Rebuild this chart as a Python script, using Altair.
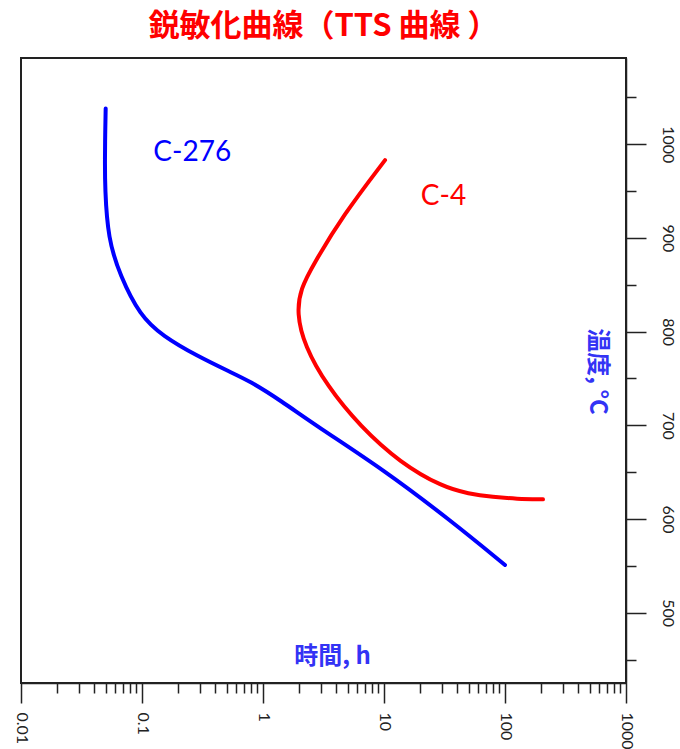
import altair as alt
import pandas as pd

# C-276 curve (time in h, temperature in °C)
c276_time = [0.0501, 0.0496, 0.0494, 0.0494, 0.0524, 0.0658, 0.0962, 0.149, 0.285, 0.533, 0.782, 1.38, 2.79, 9.82, 35.1, 100]
c276_temp = [1038, 1010, 985, 953, 899, 860, 817, 795, 774, 757, 747, 727, 699, 653, 599, 551]

# C-4 curve
c4_time = [10.2, 4.58, 2.59, 2.05, 1.9, 2.2, 3.38, 6.34, 13.6, 30.7, 50.0, 79.6, 125, 206]
c4_temp = [983, 924, 871, 846, 820, 785, 742, 699, 660, 634, 627, 623.5, 621.5, 621]

series_names = ["C-276", "C-4"]
series_colors = ["#0000FF", "#FF0000"]

label_time = [0.26, 31.0]
label_temp = [991, 944]

x_major = [0.01, 0.1, 1, 10, 100, 1000]
x_minor = [m * 10.0 ** k for k in range(-2, 3) for m in range(2, 10)]
y_major = [500, 600, 700, 800, 900, 1000]
y_minor = [450, 550, 650, 750, 850, 950, 1050]

rows = []
for i, (t, T) in enumerate(zip(c276_time, c276_temp)):
    rows.append({"series": "C-276", "t": t, "T": T, "idx": i})
for i, (t, T) in enumerate(zip(c4_time, c4_temp)):
    rows.append({"series": "C-4", "t": t, "T": T, "idx": i})
lines_df = pd.DataFrame(rows)

labels_df = pd.DataFrame({"series": series_names, "t": label_time, "T": label_temp})

xscale = alt.Scale(type="log", domain=[0.01, 1000], nice=False)
yscale = alt.Scale(domain=[425, 1092], nice=False, zero=False)
cscale = alt.Scale(domain=series_names, range=series_colors)

axis_common = dict(grid=False, tickColor="#222", tickWidth=1.5, domainColor="#222",
                   domainWidth=1.5, labelFont="Lato", labelFontSize=16, labelColor="#222",
                   labelOverlap=False, labelFlush=False)

x_major_axis = alt.Axis(values=x_major, format="~g", orient="bottom", tickSize=20,
                        labelAngle=90, labelAlign="left", labelBaseline="middle",
                        labelPadding=9, title="時間, h", titleX=311, titleY=-27,
                        titleAngle=0, titleAlign="center", titleBaseline="middle",
                        titleFont="Noto Sans CJK JP", titleFontSize=24, titleFontWeight="bold",
                        titleColor="#3333F5", **axis_common)
y_major_axis = alt.Axis(values=y_major, format="d", orient="right", tickSize=20,
                        labelAngle=90, labelAlign="center", labelBaseline="bottom",
                        labelPadding=13, title="温度, °C", titleX=-30, titleY=313,
                        titleAngle=90, titleAlign="center", titleBaseline="middle",
                        titleFont="Noto Sans CJK JP", titleFontSize=24, titleFontWeight="bold",
                        titleColor="#3333F5", **axis_common)

x_minor_axis = alt.Axis(values=x_minor, orient="bottom", tickSize=10, labels=False,
                        domain=False, grid=False, title=None, tickColor="#222", tickWidth=1.5)
y_minor_axis = alt.Axis(values=y_minor, orient="right", tickSize=10, labels=False,
                        domain=False, grid=False, title=None, tickColor="#222", tickWidth=1.5)

lines = alt.Chart(lines_df).mark_line(strokeWidth=4, strokeCap="round",
                                      interpolate="basis").encode(
    x=alt.X("t:Q", scale=xscale, axis=x_major_axis),
    y=alt.Y("T:Q", scale=yscale, axis=y_major_axis),
    color=alt.Color("series:N", scale=cscale, legend=None),
    order="idx:Q",
    detail="series:N",
)

texts = alt.Chart(labels_df).mark_text(font="Lato", fontSize=28, align="center",
                                       baseline="middle").encode(
    x=alt.X("t:Q", scale=xscale, axis=x_minor_axis),
    y=alt.Y("T:Q", scale=yscale, axis=y_minor_axis),
    text="series:N",
    color=alt.Color("series:N", scale=cscale, legend=None),
)

chart = alt.layer(lines, texts).resolve_axis(x="independent", y="independent").properties(
    width=605,
    height=625,
    autosize=alt.AutoSizeParams(type="none"),
    padding={"left": 21, "top": 58, "right": 54, "bottom": 66},
    title=alt.TitleParams("鋭敏化曲線（TTS 曲線 ）", font="Noto Sans CJK JP", fontSize=31,
                          fontWeight="bold", color="#FF0000", anchor="middle", offset=15),
).configure(background="white").configure_view(stroke="#222", strokeWidth=2)

chart.save("out.html", embed_options={"renderer": "svg", "actions": False})
